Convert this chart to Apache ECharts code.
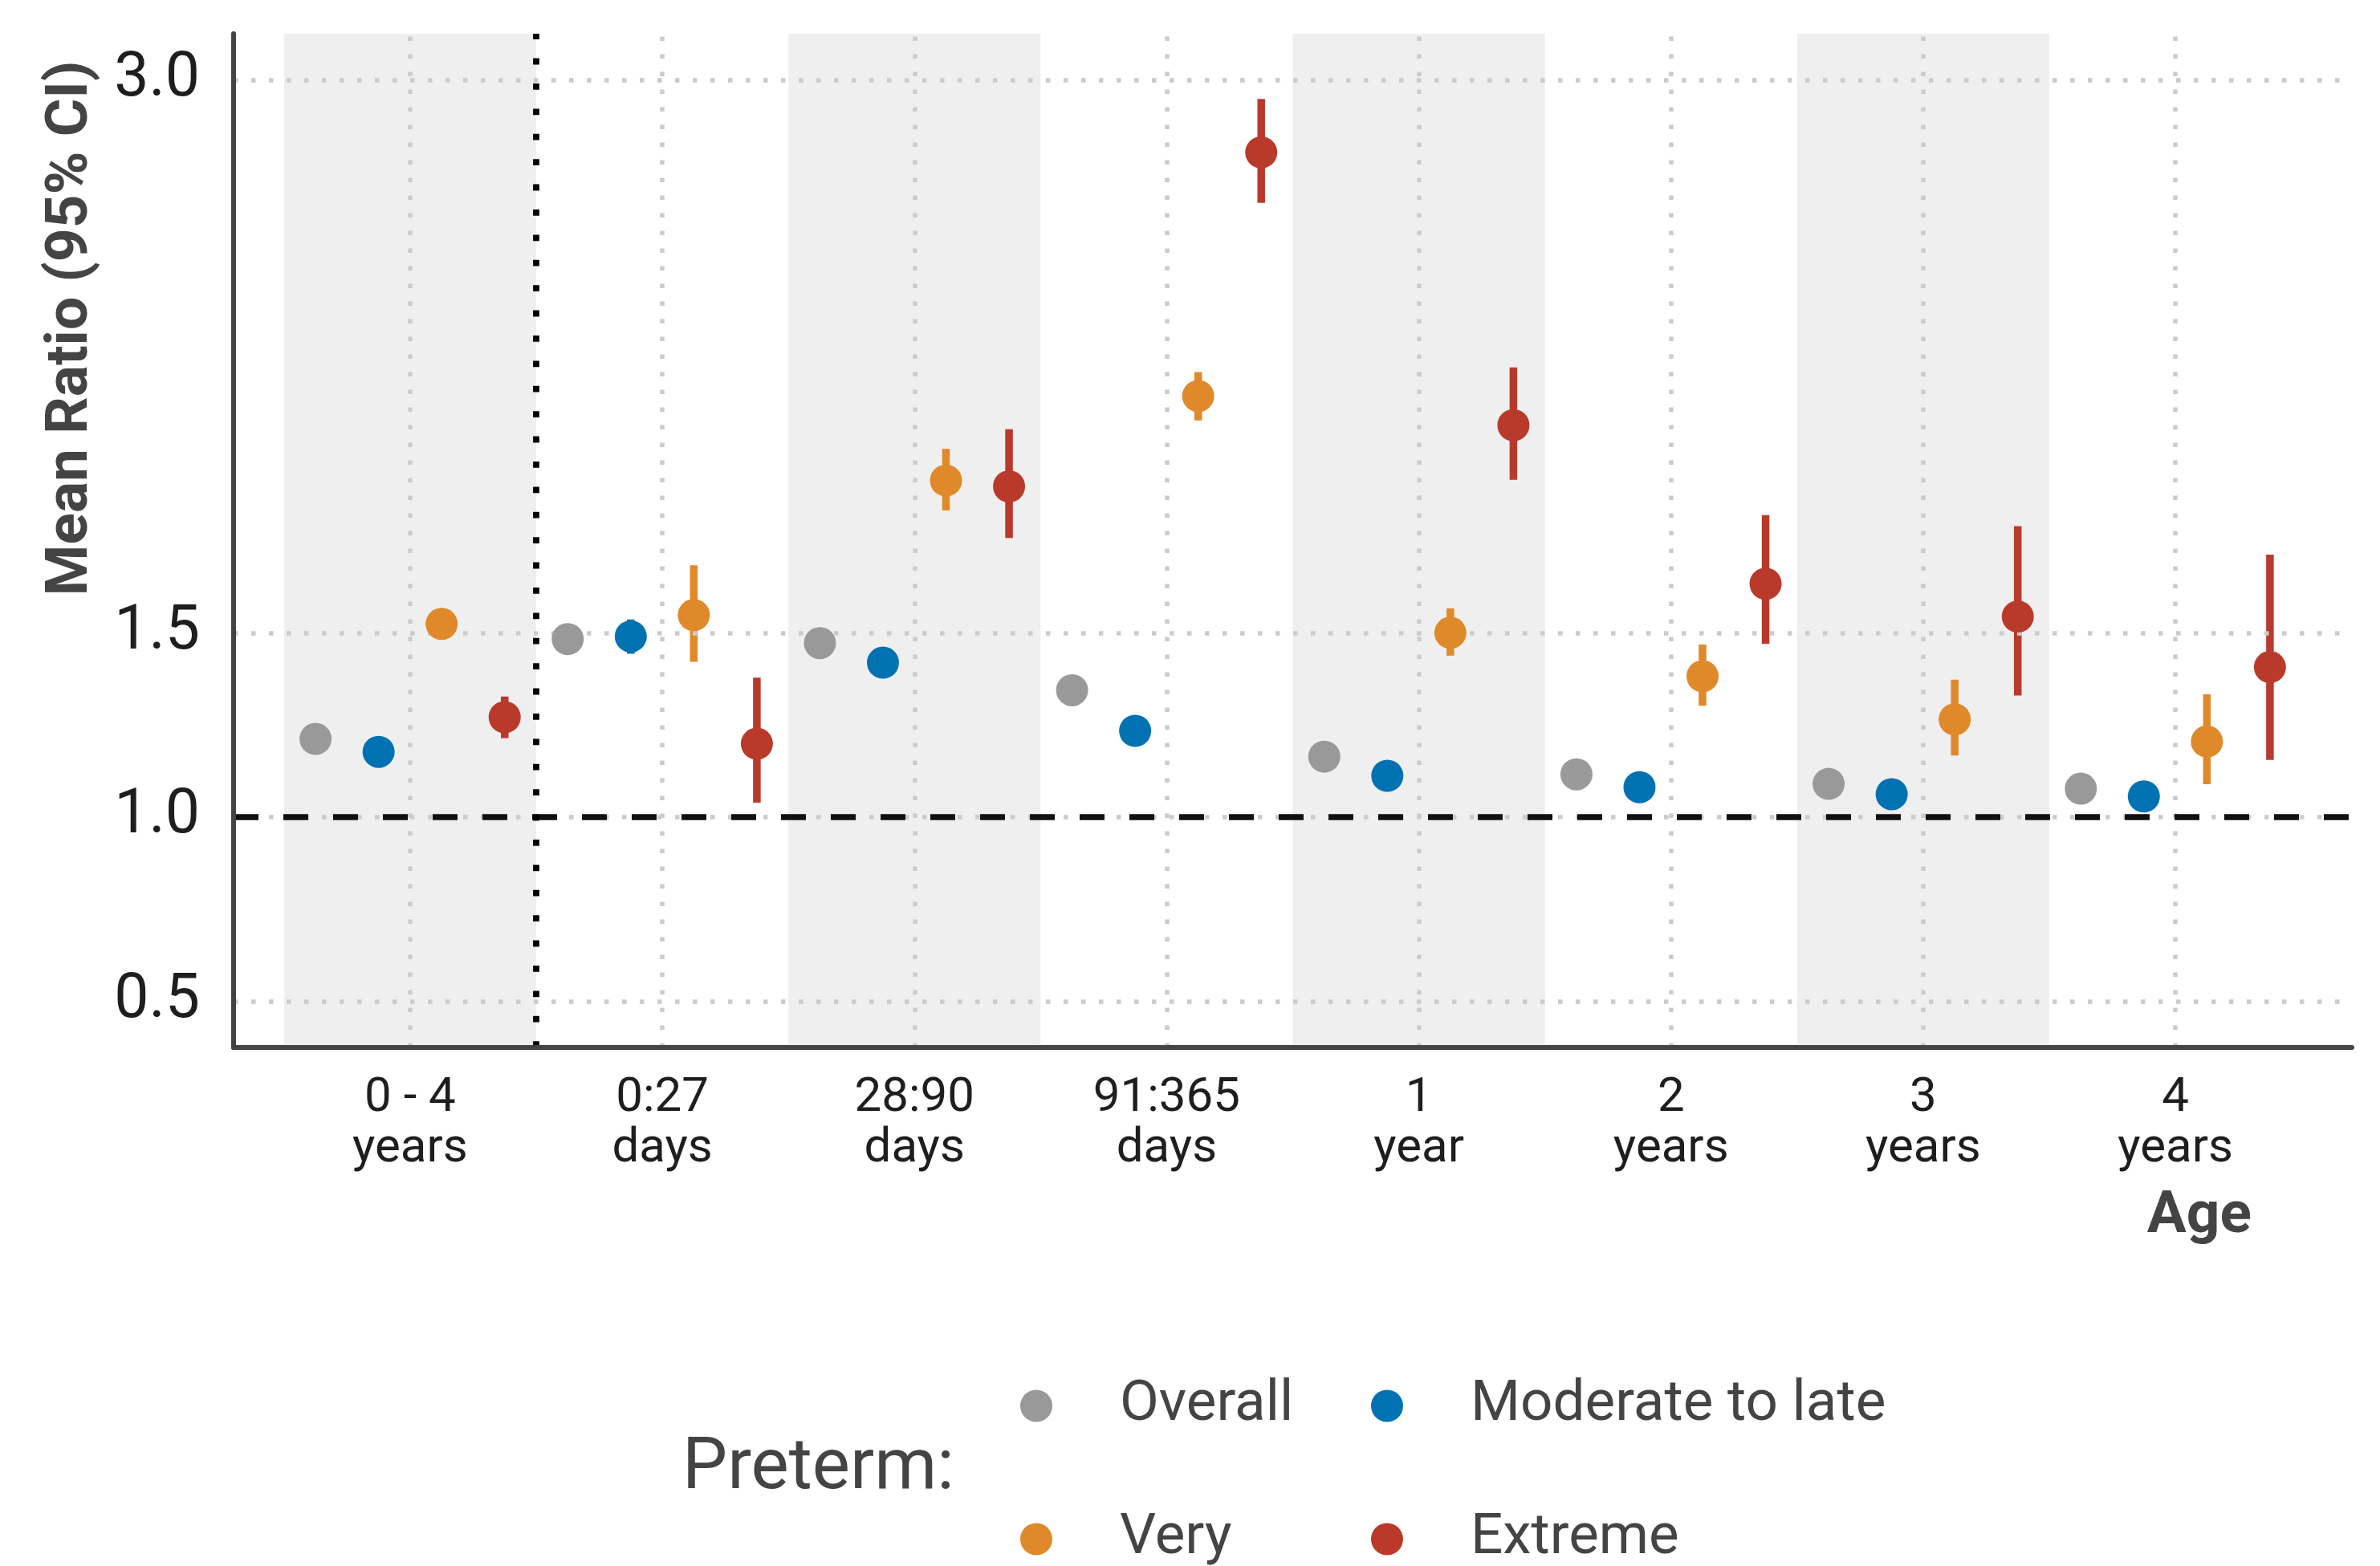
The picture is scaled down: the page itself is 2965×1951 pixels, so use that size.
<!DOCTYPE html>
<html>
<head>
<meta charset="utf-8">
<script src="https://cdn.jsdelivr.net/npm/echarts@6/dist/echarts.min.js"></script>
<style>
html,body{margin:0;padding:0;background:#ffffff;}
#chart{width:2965px;height:1951px;}
</style>
</head>
<body>
<div id="chart"></div>
<script>
// ---------------- data ----------------
const categories = ['0 - 4\nyears', '0:27\ndays', '28:90\ndays', '91:365\ndays', '1\nyear', '2\nyears', '3\nyears', '4\nyears'];
const groupNames = ['Overall', 'Moderate to late', 'Very', 'Extreme'];

const overall      = [1.212, 1.483, 1.472, 1.344, 1.164, 1.116, 1.090, 1.077];
const overallLow   = [1.200, 1.470, 1.460, 1.332, 1.155, 1.107, 1.081, 1.068];
const overallHigh  = [1.224, 1.496, 1.484, 1.356, 1.173, 1.125, 1.099, 1.086];

const moderate     = [1.177, 1.490, 1.419, 1.234, 1.112, 1.081, 1.062, 1.056];
const moderateLow  = [1.162, 1.443, 1.404, 1.220, 1.102, 1.071, 1.052, 1.046];
const moderateHigh = [1.192, 1.536, 1.434, 1.248, 1.122, 1.091, 1.072, 1.066];

const very         = [1.524, 1.548, 1.913, 2.142, 1.500, 1.382, 1.265, 1.205];
const veryLow      = [1.500, 1.421, 1.832, 2.076, 1.438, 1.302, 1.167, 1.089];
const veryHigh     = [1.548, 1.683, 1.999, 2.207, 1.566, 1.468, 1.373, 1.333];

const extreme      = [1.271, 1.199, 1.897, 2.803, 2.063, 1.633, 1.544, 1.407];
const extremeLow   = [1.214, 1.039, 1.757, 2.666, 1.915, 1.470, 1.330, 1.155];
const extremeHigh  = [1.327, 1.378, 2.052, 2.948, 2.220, 1.819, 1.789, 1.712];

const yTicks = [0.5, 1.0, 1.5, 3.0];
const referenceValue = 1.0;

// ---------------- style ----------------
const groupColors = ['#999999', '#0072B2', '#E0892A', '#B93A2A'];
const groups = [
  {name: groupNames[0], mean: overall,  low: overallLow,  high: overallHigh},
  {name: groupNames[1], mean: moderate, low: moderateLow, high: moderateHigh},
  {name: groupNames[2], mean: very,     low: veryLow,     high: veryHigh},
  {name: groupNames[3], mean: extreme,  low: extremeLow,  high: extremeHigh}
];
const dodgeWidth = 1.0;
const offsetOf = k => (k + 0.5) / groups.length * dodgeWidth - dodgeWidth / 2;
const FONT = 'Roboto';

const chart = echarts.init(document.getElementById('chart'), null, {renderer: 'canvas'});

const series = [];

// shaded bands (every other category)
series.push({
  type: 'line', data: [], z: 1, silent: true, animation: false,
  markArea: {
    silent: true,
    itemStyle: {color: '#efefef'},
    data: categories.map((c, i) => i).filter(i => i % 2 === 0)
      .map(i => [{xAxis: i - 0.5}, {xAxis: i + 0.5}])
  }
});

// dotted grey grid lines
const gridStyle = {color: '#cbcbcb', width: 5.5, type: [5.5, 16.5], cap: 'butt'};
series.push({
  type: 'line', data: [], z: 2, silent: true, animation: false,
  markLine: {
    silent: true, symbol: ['none', 'none'], label: {show: false}, animation: false,
    lineStyle: gridStyle,
    data: categories.map((c, i) => ({xAxis: i})).concat(yTicks.map(v => ({yAxis: v})))
  }
});

// reference lines
series.push({
  type: 'line', data: [], z: 3, silent: true, animation: false,
  markLine: {
    silent: true, symbol: ['none', 'none'], label: {show: false}, animation: false,
    data: [
      {yAxis: referenceValue, lineStyle: {color: '#111111', width: 7.5, type: [31, 31], cap: 'butt'}},
      {xAxis: 0.5, lineStyle: {color: '#000000', width: 7.8, type: [7.8, 23.6], cap: 'butt'}}
    ]
  }
});

// error bars
groups.forEach((g, k) => {
  const off = offsetOf(k);
  const color = groupColors[k];
  series.push({
    type: 'custom', name: g.name + ' CI', z: 4, silent: true, animation: false,
    encode: {x: 0, y: [1, 2]},
    data: g.mean.map((m, i) => [i + off, g.low[i], g.high[i]]),
    renderItem: function (params, api) {
      const p1 = api.coord([api.value(0), api.value(1)]);
      const p2 = api.coord([api.value(0), api.value(2)]);
      return {
        type: 'line',
        shape: {x1: p1[0], y1: p1[1], x2: p2[0], y2: p2[1]},
        style: {stroke: color, lineWidth: 9.5, lineCap: 'butt'}
      };
    }
  });
});

// points
groups.forEach((g, k) => {
  const off = offsetOf(k);
  series.push({
    type: 'scatter', name: g.name, z: 5, animation: false,
    symbol: 'circle', symbolSize: 40,
    itemStyle: {color: groupColors[k], opacity: 1},
    emphasis: {disabled: true},
    data: g.mean.map((m, i) => [i + off, m])
  });
});

const legendCommon = {
  orient: 'vertical', padding: 0, itemWidth: 40, itemHeight: 40, icon: 'circle',
  itemGap: 95, selectedMode: false, height: 400,
  textStyle: {fontFamily: FONT, fontSize: 71, color: '#444444', lineHeight: 60, padding: [0, 0, 0, 79]}
};

const option = {
  backgroundColor: '#ffffff',
  animation: false,
  grid: {left: 291, right: 35, top: 42, bottom: 646, containLabel: false},
  xAxis: {
    type: 'value', min: -0.7, max: 7.7, z: 6,
    axisLine: {show: true, onZero: false, lineStyle: {color: '#444444', width: 6}},
    axisTick: {show: false},
    splitLine: {show: false},
    axisLabel: {
      customValues: categories.map((c, i) => i),
      formatter: v => categories[Math.round(v)],
      fontFamily: FONT, fontSize: 60, lineHeight: 63, color: '#1e1e1e', margin: 32, align: 'center'
    }
  },
  yAxis: {
    type: 'value', min: 0.375, max: 3.125, z: 6,
    axisLine: {show: true, onZero: false, lineStyle: {color: '#444444', width: 6}},
    axisTick: {show: false},
    splitLine: {show: false},
    axisLabel: {
      customValues: yTicks,
      formatter: v => v.toFixed(1),
      fontFamily: FONT, fontSize: 77, color: '#1e1e1e', margin: 42
    }
  },
  legend: [
    Object.assign({}, legendCommon, {left: 1271, top: 1716, data: [groupNames[0], groupNames[2]]}),
    Object.assign({}, legendCommon, {left: 1708, top: 1716, data: [groupNames[1], groupNames[3]]})
  ],
  graphic: [
    {
      type: 'text', x: 90, y: 409, rotation: Math.PI / 2, silent: true,
      style: {text: 'Mean Ratio (95% CI)', fontFamily: FONT, fontWeight: 'bold', fontSize: 73,
              fill: '#444444', align: 'center', verticalAlign: 'middle'}
    },
    {
      type: 'text', x: 2805, y: 1517, silent: true,
      style: {text: 'Age', fontFamily: FONT, fontWeight: 'bold', fontSize: 73,
              fill: '#444444', align: 'right', verticalAlign: 'middle'}
    },
    {
      type: 'text', x: 850, y: 1832, silent: true,
      style: {text: 'Preterm:', fontFamily: FONT, fontSize: 89,
              fill: '#444444', align: 'left', verticalAlign: 'middle'}
    }
  ],
  series: series
};

chart.setOption(option);
</script>
</body>
</html>
